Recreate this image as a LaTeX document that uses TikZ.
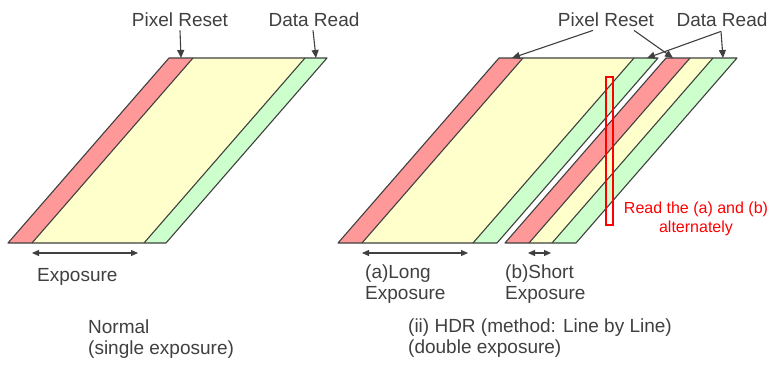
\documentclass[tikz,border=0pt]{standalone}
\usepackage{fontspec}
\setmainfont{Liberation Sans}
\usetikzlibrary{arrows.meta}
\definecolor{edge}{HTML}{404040}
\definecolor{txt}{HTML}{404040}
\definecolor{rband}{HTML}{FF9999}
\definecolor{yband}{HTML}{FFFFCC}
\definecolor{gband}{HTML}{CCFFCC}
\newcommand\slab[3]{\fill[#1] (#2,243) -- (#3,243) -- ({#3+161},58) -- ({#2+161},58) -- cycle;}
\newcommand\slant[1]{\draw[bandline] (#1,243) -- ({#1+161},58);}
\newcommand\frameslab[2]{\draw[bandline] (#1,243) -- (#2,243) -- ({#2+161},58) -- ({#1+161},58) -- cycle;}
\begin{document}
\begin{tikzpicture}[x=1pt,y=-1pt,
  lbl/.style={font=\fontsize{19}{21}\selectfont, text=txt, inner sep=0pt},
  redlbl/.style={font=\fontsize{16}{19}\selectfont, text=red, inner sep=0pt},
  bandline/.style={draw=edge, line width=1.1pt, line join=round},
  ptr/.style={draw=edge, line width=1.1pt, -{Triangle[length=8pt,width=7pt]}},
  span/.style={draw=edge, line width=1.1pt, {Triangle[length=7pt,width=6pt]}-{Triangle[length=7pt,width=6pt]}}]
\useasboundingbox[fill=white] (0,0) rectangle (774,365);

% --- Normal (left)
\slab{rband}{8}{32}
\slab{yband}{32}{144}
\slab{gband}{144}{166}
\frameslab{8}{166}
\slant{32}
\slant{144}

% --- HDR long exposure
\slab{rband}{338}{362}
\slab{yband}{362}{473}
\slab{gband}{473}{497}
\frameslab{338}{497}
\slant{362}
\slant{473}

% --- HDR short exposure
\slab{rband}{505}{529}
\slab{yband}{529}{552}
\slab{gband}{552}{576}
\frameslab{505}{576}
\slant{529}
\slant{552}

% red marker rectangle
\draw[red, line width=1.3pt] (606,77) rectangle (613,225);

% target coordinates
\coordinate (prLt) at (181,58);
\coordinate (drLt) at (316,58);
\coordinate (prR1t) at (512,58);
\coordinate (prR2t) at (673,58);
\coordinate (drR1t) at (647,58);
\coordinate (drR2t) at (723,58);
\coordinate (expLa) at (32,253);
\coordinate (expLb) at (138,253);
\coordinate (longa) at (362,253);
\coordinate (longb) at (468,253);
\coordinate (shorta) at (528,253);
\coordinate (shortb) at (551,253);

% labels
\node[lbl, anchor=base] (prL) at (180,26) {Pixel Reset};
\node[lbl, anchor=base] (drL) at (314,26) {Data Read};
\node[lbl, anchor=base] (prR) at (606,26) {Pixel Reset};
\node[lbl, anchor=base] (drR) at (722,26) {Data Read};

\draw[ptr] ([yshift=-4pt]prL.south) -- (prLt);
\draw[ptr] ([xshift=-1pt,yshift=-4pt]drL.south) -- (drLt);
\draw[ptr] ([xshift=-13pt,yshift=-4pt]prR.south) -- (prR1t);
\draw[ptr] ([xshift=28pt,yshift=-4pt]prR.south) -- (prR2t);
\draw[ptr] ([xshift=-1pt,yshift=-5pt]drR.south) -- (drR1t);
\draw[ptr] ([xshift=-1pt,yshift=-5pt]drR.south) -- (drR2t);

\draw[span] (expLa) -- (expLb);
\draw[span] (longa) -- (longb);
\draw[span] (shorta) -- (shortb);

\node[lbl, anchor=base west] (expL) at (37,281) {Exposure};
\node[lbl, anchor=base west] (norm1) at (88,333) {Normal};
\node[lbl, anchor=base west] (norm2) at (88,354) {(single exposure)};
\node[lbl, anchor=base west] (longA) at (365,278) {(a)Long};
\node[lbl, anchor=base west] (longB) at (365,299) {Exposure};
\node[lbl, anchor=base west] (shortA) at (505,278) {(b)Short};
\node[lbl, anchor=base west] (shortB) at (505,299) {Exposure};
\node[lbl, anchor=base west] (hdr1) at (408,332) {(ii) HDR (method: Line by Line)};
\node[lbl, anchor=base west] (hdr2) at (408,353) {(double exposure)};

\node[redlbl, anchor=base] (rt1) at (696,213) {Read the (a) and (b)};
\node[redlbl, anchor=base] (rt2) at (696,232) {alternately};
\end{tikzpicture}
\end{document}
